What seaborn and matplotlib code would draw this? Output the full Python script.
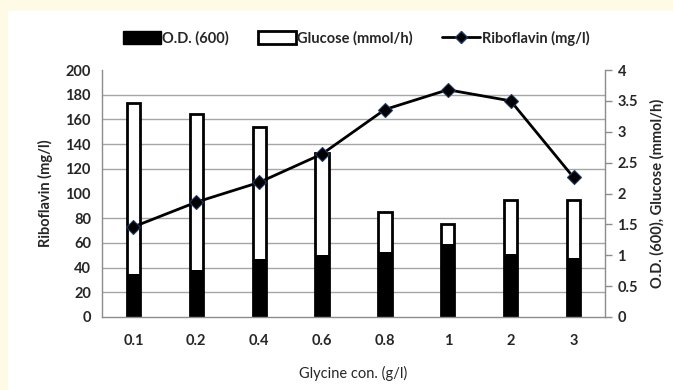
import matplotlib
matplotlib.use("Agg")
import matplotlib.pyplot as plt
from matplotlib.patches import Rectangle, Patch
from matplotlib.lines import Line2D
from matplotlib.ticker import MultipleLocator
import seaborn as sns
import pandas as pd

# Glycine concentration series
glycine = ["0.1", "0.2", "0.4", "0.6", "0.8", "1", "2", "3"]
od600 = [0.70, 0.76, 0.94, 1.00, 1.05, 1.18, 1.02, 0.95]
glucose = [3.46, 3.28, 3.08, 2.66, 1.70, 1.50, 1.90, 1.90]
riboflavin = [73, 93, 109, 132, 168, 184, 175, 113]

df = pd.DataFrame({"glycine": glycine, "od": od600, "glucose": glucose,
                   "riboflavin": riboflavin})

sns.set_theme(style="white")
plt.rcParams["font.family"] = ["Lato", "DejaVu Sans"]
plt.rcParams["font.weight"] = "bold"

fs = 10.5
fig = plt.figure(figsize=(6.73, 3.90), dpi=100, facecolor="white")
cream = "#FFFAE6"
fig.add_artist(Rectangle((0, 0), 8 / 673, 1, transform=fig.transFigure,
                         facecolor=cream, edgecolor="none", zorder=-10))
fig.add_artist(Rectangle((0, 1 - 11 / 390), 1, 11 / 390, transform=fig.transFigure,
                         facecolor=cream, edgecolor="none", zorder=-10))

ax = fig.add_axes([102 / 673, 1 - 317 / 390, 503 / 673, 247 / 390])
ax.set_facecolor("white")
ax2 = ax.twinx()

# Bars on the O.D./glucose scale (right-hand axis)
sns.barplot(data=df, x="glycine", y="glucose", color="white", edgecolor="black",
            linewidth=2.0, width=0.21, ax=ax, saturation=1)
sns.barplot(data=df, x="glycine", y="od", color="black", edgecolor="black",
            linewidth=0, width=0.21, ax=ax, saturation=1)

# Riboflavin line on the left-hand scale
sns.pointplot(data=df, x="glycine", y="riboflavin", color="black", markers="D",
              markersize=7, linewidth=2, ax=ax2)
for ln in ax2.lines:
    ln.set_markeredgecolor("#1F3864")
    ln.set_markeredgewidth(0.8)

ax.set_ylim(0, 4)
ax.set_xlim(-0.5, 7.5)
ax.yaxis.tick_right()
ax.yaxis.set_label_position("right")
ax.yaxis.set_minor_locator(MultipleLocator(0.4))
ax.grid(which="minor", axis="y", color="#A6A6A6", linewidth=1.0)
ax.set_axisbelow(True)
ax.tick_params(axis="y", which="minor", length=0, left=False, right=False)
ax.tick_params(axis="y", which="major", right=True, left=False, labelleft=False,
               labelright=True, length=5, width=1, color="#8C8C8C",
               labelsize=fs, pad=4)
ax.tick_params(axis="x", length=0, labelsize=fs, pad=12)
ax.set_yticks([0, 0.5, 1, 1.5, 2, 2.5, 3, 3.5, 4])
ax.set_yticklabels(["0", "0.5", "1", "1.5", "2", "2.5", "3", "3.5", "4"])
for s in ["left", "bottom", "right"]:
    ax.spines[s].set_color("#8C8C8C")
    ax.spines[s].set_linewidth(1.0)
ax.spines["top"].set_visible(False)
ax.set_xlabel("Glycine con. (g/l)", fontsize=fs, fontweight="normal", labelpad=13)
ax.set_ylabel("O.D. (600), Glucose (mmol/h)", fontsize=fs, fontweight="bold",
              labelpad=9)

ax2.set_ylim(0, 200)
ax2.set_xlim(-0.5, 7.5)
ax2.yaxis.tick_left()
ax2.yaxis.set_label_position("left")
ax2.yaxis.set_major_locator(MultipleLocator(20))
ax2.tick_params(axis="y", length=0, labelsize=fs, pad=8, left=False, right=False,
                labelleft=True, labelright=False)
ax2.patch.set_visible(False)
for s in ax2.spines.values():
    s.set_visible(False)
ax2.set_ylabel("Riboflavin (mg/l)", fontsize=fs, fontweight="bold", labelpad=9)
ax2.set_xlabel("")

handles = [
    Patch(facecolor="black", edgecolor="black"),
    Patch(facecolor="white", edgecolor="black", linewidth=2),
    Line2D([0], [0], color="black", linewidth=2, marker="D", markersize=6,
           markerfacecolor="black", markeredgecolor="#1F3864"),
]
fig.legend(handles, ["O.D. (600)", "Glucose (mmol/h)", "Riboflavin (mg/l)"],
           loc="center", bbox_to_anchor=(356 / 673, 1 - 38 / 390), ncol=3,
           frameon=False, fontsize=fs, handlelength=2.6, handleheight=1.0,
           handletextpad=0.1, columnspacing=2.0)

fig.savefig("out.png", dpi=100, facecolor="white")
